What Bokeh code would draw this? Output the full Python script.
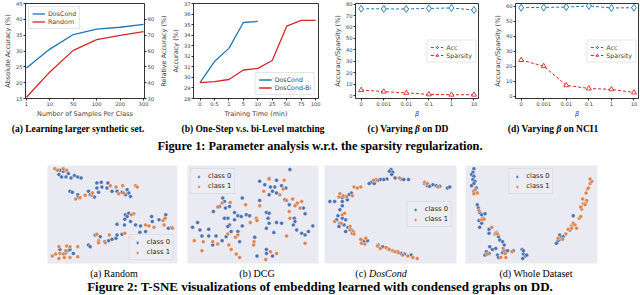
import math
from bokeh.plotting import figure
from bokeh.layouts import column, row
from bokeh.models import Range1d, LinearAxis, Legend, LegendItem, Div, FixedTicker, Title
from bokeh.embed import file_html
from bokeh.resources import INLINE

# ---------------- data: Figure 1 ----------------
samples_per_class = ["1", "10", "50", "100", "200", "300"]
doscond_abs = [24.6, 30.6, 35.2, 36.9, 37.5, 38.4]
random_abs = [15.4, 23.4, 30.2, 33.6, 34.9, 36.1]
abs_ticks = [15, 20, 25, 30, 35, 40, 45]
rel_ticks = [30, 40, 50, 60, 70, 80]

train_time = ["0", "0.5", "1", "5", "10", "25", "50", "75", "100"]
onestep_acc = [29.5, 31.5, 32.75, 35.2, 35.3]
bilevel_acc = [29.5, 29.6, 29.8, 30.7, 30.85, 31.6, 34.85, 35.4, 35.4]
time_acc_ticks = [28, 29, 30, 31, 32, 33, 34, 35, 36, 37]

beta_labels = ["0", "0.001", "0.01", "0.1", "1", "10"]
dd_acc = [75.9, 75.8, 75.7, 76.2, 76.6, 74.8]
dd_sparsity = [4.9, 3.5, 2.4, 1.1, 0.8, 0.8]
dd_ticks = [0, 10, 20, 30, 40, 50, 60, 70, 80]
nci1_acc = [59.2, 59.4, 59.6, 60.4, 59.0, 59.2]
nci1_sparsity = [24.2, 20.1, 7.3, 5.2, 4.6, 2.5]
nci1_ticks = [0, 10, 20, 30, 40, 50, 60]

# ---------------- data: Figure 2 (t-SNE embeddings, arbitrary units) ----------------
random_c0 = [(45,22),(55,25),(42,35),(50,42),(63,42),(70,32),(78,45),(88,38),(98,42),(108,45),
             (155,60),(168,58),(155,75),(170,72),(185,75),(188,60),(200,85),(215,85),(230,88),(245,80),
             (250,90),(255,100),(240,95),(75,85),(82,88),(98,95),(100,103),(130,85),(135,95),(148,102),
             (160,88),(240,155),(245,160),(238,168),(250,150),(255,175),(270,185),(285,188),(318,160),
             (320,175),(340,170),(355,170),(360,155),(368,195),(378,193),(215,183),(237,185),(300,205),
             (283,207),(150,215),(165,220),(178,235),(190,232),(200,228),(212,225),(215,215),(230,213),
             (130,245),(135,250),(45,258),(60,270),(68,262),(75,258),(85,270)]
random_c1 = [(30,18),(55,18),(65,22),(38,22),(195,68),(212,72),(232,68),(270,68),(275,72),(220,92),
             (235,90),(92,108),(105,104),(120,97),(140,97),(142,90),(265,152),(258,155),(300,185),
             (310,188),(325,192),(352,172),(380,195),(355,185),(358,165),(238,210),(255,222),(260,225),
             (155,213),(160,232),(160,238),(192,215),(180,238),(42,250),(65,248),(75,250),(98,250),
             (62,262),(45,270),(55,272),(32,272),(22,278),(42,285),(58,282),(75,282),(98,280)]

dcg_c0 = [(730,20),(640,55),(668,47),(690,52),(655,65),(672,72),(685,72),(705,68),(718,75),(678,85),
          (690,90),(668,95),(640,112),(660,148),(668,150),(530,105),(535,115),(588,105),(520,130),
          (538,135),(550,130),(502,145),(565,148),(575,158),(600,155),(610,158),(585,160),(545,165),
          (535,165),(550,185),(545,190),(555,205),(575,205),(588,188),(540,220),(528,232),(500,245),
          (462,200),(455,178),(440,192),(468,218),(488,218),(510,218),(488,198),(580,235),(625,222),
          (665,165),(668,180),(660,195),(682,208),(690,178),(705,180),(743,165),(740,185),(750,200),
          (745,175),(728,125),(748,125),(770,135),(775,152),(765,210),(775,215),(798,188),(785,205),
          (660,258),(660,270),(678,278),(632,278),(715,110),(565,170)]
dcg_c1 = [(668,48),(713,52),(710,78),(652,85),(700,95),(720,112),(738,108),(765,115),(752,120),
          (728,145),(760,135),(730,165),(720,218),(745,128),(640,128),(630,165),(612,178),(632,172),
          (598,125),(528,120),(515,132),(552,118),(545,212),(575,215),(548,245),(555,258),(570,272),
          (580,282),(623,235),(622,245),(500,235),(472,235),(445,232),(468,262),(515,242),(658,288),
          (672,265),(690,270),(775,240),(568,222)]

doscond_c0 = [(210,20),(215,28),(212,35),(205,25),(222,45),(240,48),(248,50),(262,50),(198,48),(188,50),
              (178,50),(170,52),(162,55),(152,58),(145,62),(160,62),(310,62),(318,68),(325,70),(335,65),
              (345,68),(355,70),(378,75),(385,72),(92,90),(85,95),(72,100),(65,103),(80,110),(65,115),
              (28,115),(42,115),(65,128),(58,140),(52,158),(48,170),(65,165),(75,170),(58,180),(55,190),
              (70,185),(82,192),(75,205),(92,200),(95,210),(125,232),(130,235),(140,232),(172,245),
              (185,250),(200,255),(230,265),(240,270),(250,272),(270,275)]
doscond_c1 = [(165,50),(158,52),(235,45),(310,58),(318,62),(350,72),(100,72),(110,75),(120,72),(58,92),
              (68,98),(78,100),(95,98),(55,102),(65,155),(72,150),(42,175),(62,180),(88,190),(88,200),
              (98,205),(100,212),(120,228),(122,240),(132,242),(135,225),(170,248),(195,252),(205,258),
              (215,262),(222,265),(232,268),(245,275),(260,278),(275,282),(288,285),(178,255)]

whole_c0 = [(455,18),(452,28),(448,35),(455,40),(452,50),(458,55),(455,62),(448,68),(462,75),(455,85),
            (462,88),(465,125),(468,135),(472,148),(478,155),(488,152),(482,165),(470,172),(478,180),
            (472,192),(500,198),(500,210),(518,212),(522,208),(528,220),(532,230),(540,235),(545,245),
            (502,250),(492,265),(488,275),(500,270),(510,258),(520,255),(525,275),(528,282),(540,268),
            (545,262),(555,262),(572,262),(598,258),(602,272),(608,278),(600,285),(612,275),(602,262),
            (710,215),(712,228),(705,232),(700,240),(715,222),(720,220),(740,200),(750,158)]
whole_c1 = [(458,80),(465,90),(455,92),(470,142),(478,170),(485,168),(508,192),(520,210),(525,212),
            (542,255),(548,270),(535,282),(550,282),(568,265),(495,272),(705,225),(718,228),(728,212),
            (735,198),(745,188),(750,180),(755,185),(768,165),(772,160),(775,138),(772,132),(780,122),
            (788,118),(785,125),(790,112),(778,108),(788,90),(792,78),(800,62),(805,55),(800,48),
            (795,75),(760,195),(745,195)]

# ---------------- styling ----------------
FONT = "DejaVu Sans"
SERIF = "Liberation Serif"
BLUE = "#1f77b4"
RED = "#d62728"
C0 = "#4c72b0"
C1 = "#dd8452"
TOP_H = 120
FRAME_H = 99


def style_axis(ax, label_style="normal"):
    ax.axis_line_color = None
    ax.major_tick_out = 2
    ax.major_tick_in = 0
    ax.major_tick_line_width = 0.8
    ax.minor_tick_line_color = None
    ax.major_label_text_font = FONT
    ax.major_label_text_font_size = "5.2px"
    ax.major_label_standoff = 1
    ax.axis_label_text_font = FONT
    ax.axis_label_text_font_size = "6.5px"
    ax.axis_label_text_font_style = label_style
    ax.axis_label_standoff = 1


def top_fig(width, left, right, x_range, y_range, labels):
    p = figure(width=width, height=TOP_H, x_range=x_range, y_range=y_range,
               output_backend="svg", toolbar_location=None,
               min_border_left=left, min_border_right=right,
               min_border_top=3, min_border_bottom=TOP_H - 3 - FRAME_H)
    p.grid.visible = False
    p.outline_line_color = "black"
    p.outline_line_width = 0.8
    for ax in p.xaxis + p.yaxis:
        style_axis(ax)
    p.xaxis.ticker = FixedTicker(ticks=list(range(len(labels))))
    p.xaxis.major_label_overrides = {i: s for i, s in enumerate(labels)}
    return p


def style_legend(lg, size="6.3px"):
    lg.label_text_font = FONT
    lg.label_text_font_size = size
    lg.glyph_width = 13
    lg.glyph_height = 7
    lg.label_height = 7
    lg.label_standoff = 3
    lg.spacing = 1
    lg.padding = 3
    lg.margin = 3
    lg.border_line_color = "#cccccc"
    lg.border_line_width = 0.8
    lg.background_fill_alpha = 0.85


# (a)
xa = list(range(len(samples_per_class)))
fa = top_fig(157, 22, 9, Range1d(-0.04, 5.04), Range1d(15, 45), samples_per_class)
fa.extra_y_ranges = {"rel": Range1d(30, 90)}
fa.yaxis.ticker = FixedTicker(ticks=abs_ticks)
fa.yaxis.axis_label = "Absolute Accuracy (%)"
fa.xaxis.axis_label = "Number of Samples Per Class"
rax = LinearAxis(y_range_name="rel", ticker=FixedTicker(ticks=rel_ticks))
style_axis(rax)
fa.add_layout(rax, "right")
fa.line(xa, doscond_abs, line_color=BLUE, line_width=1.3, legend_label="DosCond")
fa.line(xa, random_abs, line_color=RED, line_width=1.3, legend_label="Random")
style_legend(fa.legend[0])
fa.legend.location = "top_left"

# (b)
fb = top_fig(173, 31, 12, Range1d(-0.45, 8.2), Range1d(28, 37), train_time)
fb.yaxis.ticker = FixedTicker(ticks=time_acc_ticks)
fb.yaxis.axis_label = "Accuracy (%)"
fb.xaxis.axis_label = "Training Time (min)"
# right-hand axis title of panel (a), drawn in the left margin of panel (b)
fb.add_layout(Title(text="Relative Accuracy (%)", align="center", standoff=1,
                    text_font=FONT, text_font_size="6.5px", text_font_style="normal"), "left")
fb.line(list(range(len(onestep_acc))), onestep_acc, line_color=BLUE, line_width=1.3, legend_label="DosCond")
fb.line(list(range(len(bilevel_acc))), bilevel_acc, line_color=RED, line_width=1.3, legend_label="DosCond-Bi")
style_legend(fb.legend[0])
fb.legend.location = "bottom_right"


def beta_fig(width, left, right, y_range, ticks, acc, sp):
    p = top_fig(width, left, right, Range1d(-0.25, 5.2), y_range, beta_labels)
    p.yaxis.ticker = FixedTicker(ticks=ticks)
    p.yaxis.axis_label = "Accuracy/Sparsity (%)"
    p.xaxis.axis_label = "β"
    p.xaxis.axis_label_text_font_style = "italic"
    xs = list(range(len(beta_labels)))
    p.line(xs, acc, line_color=BLUE, line_width=1.0, line_dash="3 2", legend_label="Acc")
    p.scatter(xs, acc, marker="diamond", size=7, line_color=BLUE, fill_color="white",
              line_width=0.9, legend_label="Acc")
    p.line(xs, sp, line_color=RED, line_width=1.0, line_dash="3 2", legend_label="Sparsity")
    p.scatter(xs, sp, marker="triangle", size=5, line_color=RED, fill_color="white",
              line_width=0.9, legend_label="Sparsity")
    style_legend(p.legend[0])
    p.legend.location = "right"
    p.legend.margin = 2
    return p


fc = beta_fig(160, 18, 12, Range1d(-2.5, 80.5), dd_ticks, dd_acc, dd_sparsity)
fd = beta_fig(150, 18, 2, Range1d(-1.5, 62), nci1_ticks, nci1_acc, nci1_sparsity)


# ---------------- t-SNE panels ----------------
def tsne_fig(width, left, right, xr, c0, c1, loc, margin=3):
    p = figure(width=width, height=105, x_range=Range1d(*xr), y_range=Range1d(300, 8),
               x_axis_location=None, y_axis_location=None,
               output_backend="svg", toolbar_location=None,
               min_border_left=left, min_border_right=right, min_border_top=5, min_border_bottom=2,
               background_fill_color="#eaeaf2", outline_line_color=None)
    p.grid.visible = False
    r0 = p.scatter([q[0] for q in c0], [q[1] for q in c0], size=4, fill_color=C0,
                   line_color="white", line_width=0.4)
    r1 = p.scatter([q[0] for q in c1], [q[1] for q in c1], size=4, fill_color=C1,
                   line_color="white", line_width=0.4)
    lg = Legend(items=[LegendItem(label="class 0", renderers=[r0]),
                       LegendItem(label="class 1", renderers=[r1])], location=loc)
    lg.label_text_font = FONT
    lg.label_text_font_size = "6.8px"
    lg.label_text_color = "#262626"
    lg.glyph_width = 9
    lg.glyph_height = 7
    lg.label_height = 7
    lg.label_standoff = 5
    lg.spacing = 2
    lg.padding = 3
    lg.margin = margin
    lg.background_fill_color = "#ececf3"
    lg.background_fill_alpha = 0.9
    lg.border_line_color = "#d0d0da"
    lg.border_line_width = 0.8
    p.add_layout(lg)
    return p


ta = tsne_fig(182, 47, 5, (8, 395), random_c0, random_c1, "bottom_right", 3)
tb = tsne_fig(139, 5, 3, (425, 815), dcg_c0, dcg_c1, "top_left", 3)
tc = tsne_fig(140, 3, 5, (12, 405), doscond_c0, doscond_c1, "right", 4)
td = tsne_fig(179, 4, 43, (430, 822), whole_c0, whole_c1, "top_center", 3)


# ---------------- captions ----------------
def cap(html, w, h, size, weight="normal", pad_left=0, pad_right=0, pad_top=0, lh=None):
    lh = lh if lh is not None else h
    style = ("width:%dpx;padding-left:%dpx;padding-top:%dpx;text-align:center;"
             "font-family:'%s';font-size:%spx;font-weight:%s;line-height:%dpx;"
             "white-space:nowrap;color:black;margin:0" % (w - pad_left - pad_right, pad_left, pad_top,
                                                          SERIF, size, weight, lh))
    return Div(text='<div style="%s">%s</div>' % (style, html), width=w, height=h, margin=0)


cap_row1 = row(
    cap("(a) Learning larger synthetic set.", 156, 14, 9.5, "bold"),
    cap("(b) One-Step v.s. bi-Level matching", 194, 14, 9.5, "bold"),
    cap("(c) Varying <i>β</i> on DD", 116, 14, 9.5, "bold"),
    cap("(d) Varying <i>β</i> on NCI1", 174, 14, 9.5, "bold", pad_left=28),
    spacing=0)
fig1_cap = cap("Figure 1: Parameter analysis w.r.t. the sparsity regularization.", 640, 26, 12.3,
               "bold", pad_top=6, lh=12)
cap_row2 = row(
    cap("(a) Random", 228, 14, 10),
    cap("(b) DCG", 58, 14, 10),
    cap("(c) <i>DosCond</i>", 190, 14, 10, pad_left=30),
    cap("(d) Whole Dataset", 164, 14, 10, pad_right=44),
    spacing=0)
fig2_cap = cap("Figure 2: T-SNE visualizations of embedding learned with condensed graphs on DD.",
               640, 16, 13, "bold")

layout = column(
    row(fa, fb, fc, fd, spacing=0),
    cap_row1,
    fig1_cap,
    row(ta, tb, tc, td, spacing=0),
    cap_row2,
    fig2_cap,
    spacing=0,
)

open("out.html", "w").write(file_html(layout, INLINE))
